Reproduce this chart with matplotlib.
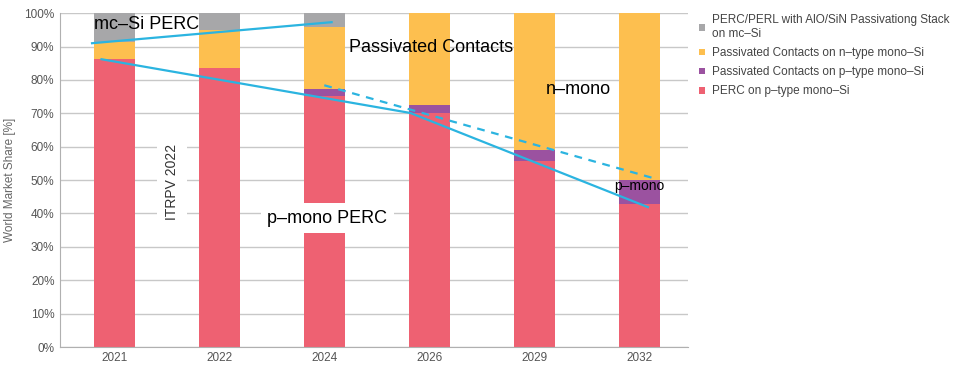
"""ITRPV 2022 cell technology market share"""

import matplotlib.pyplot as plt
import numpy as np

plt.rcParams['font.family'] = ['Liberation Sans', 'DejaVu Sans']

# Bar data (world market share in %)
years = ['2021', '2022', '2024', '2026', '2029', '2032']
perc_p_mono = [86.2, 83.6, 75.2, 70.0, 55.7, 42.8]
pc_p_mono = [0.0, 0.0, 2.0, 2.5, 3.3, 7.1]
pc_n_mono = [5.2, 11.3, 18.7, 27.5, 41.0, 50.1]
perc_mc_si = [8.6, 5.1, 4.1, 0.0, 0.0, 0.0]

# Trend lines drawn over the bars
mc_trend_x = [-0.21, 2.07]
mc_trend_y = [91.0, 97.3]
perc_trend_x = [-0.12, 2.82, 5.08]
perc_trend_y = [86.2, 70.1, 41.9]
pmono_trend_x = [2.0, 5.13]
pmono_trend_y = [78.4, 50.6]

labels = ['PERC/PERL with AlO/SiN Passivationg Stack\non mc\u2013Si',
          'Passivated Contacts on n\u2013type mono\u2013Si',
          'Passivated Contacts on p\u2013type mono\u2013Si',
          'PERC on p\u2013type mono\u2013Si']
colors = ['#a7a7a9', '#fdbf4f', '#9b52a0', '#ee6172']

fig = plt.figure(figsize=(9.6, 3.73), dpi=100)
ax = fig.add_axes([0.0625, 0.0697, 0.654, 0.895])

x = np.arange(len(years))
w = 0.39
b1 = ax.bar(x, perc_p_mono, w, color=colors[3], zorder=2)
bottom = np.array(perc_p_mono)
b2 = ax.bar(x, pc_p_mono, w, bottom=bottom, color=colors[2], zorder=2)
bottom = bottom + np.array(pc_p_mono)
b3 = ax.bar(x, pc_n_mono, w, bottom=bottom, color=colors[1], zorder=2)
bottom = bottom + np.array(pc_n_mono)
b4 = ax.bar(x, perc_mc_si, w, bottom=bottom, color=colors[0], zorder=2)

# Trend lines
cyan = '#2bb4e0'
ax.plot(mc_trend_x, mc_trend_y, color=cyan, lw=1.6, zorder=3)
ax.plot(perc_trend_x, perc_trend_y, color=cyan, lw=1.6, zorder=3)
ax.plot(pmono_trend_x, pmono_trend_y, color=cyan, lw=1.6, ls=(0, (3.5, 3)), zorder=3)

# Annotations
ax.text(0.31, 96.6, 'mc\u2013Si PERC', fontsize=13, ha='center', va='center', zorder=4)
ax.text(3.02, 89.8, 'Passivated Contacts', fontsize=13, ha='center', va='center', zorder=4)
ax.text(4.42, 77.0, 'n\u2013mono', fontsize=13, ha='center', va='center', zorder=4)
ax.text(5.0, 48.3, 'p\u2013mono', fontsize=10, ha='center', va='center', zorder=4)
ax.text(2.03, 38.6, 'p\u2013mono PERC', fontsize=13, ha='center', va='center', zorder=4,
        bbox=dict(facecolor='white', edgecolor='none', pad=4.5))
ax.text(0.55, 49.4, 'ITRPV 2022', fontsize=10, rotation=90, ha='center', va='center',
        color='#333333', zorder=4, bbox=dict(facecolor='white', edgecolor='none', pad=6))

ax.set_xlim(-0.515, 5.46)
ax.set_ylim(0, 100)
ax.set_xticks(x)
ax.set_xticklabels(years)
ax.set_yticks(np.arange(0, 101, 10))
ax.set_yticklabels([f'{v}%' for v in range(0, 101, 10)])
ax.tick_params(axis='both', length=0, labelsize=8.5, colors='#555555')
ax.tick_params(axis='y', pad=4)
ax.set_ylabel('World Market Share [%]', fontsize=8.5, color='#666666', labelpad=6)
ax.yaxis.grid(True, color='#c8c8c8', lw=1, zorder=0)
ax.set_axisbelow(True)
for s in ['top', 'right']:
    ax.spines[s].set_visible(False)
ax.spines['left'].set_color('#b0b0b0')
ax.spines['bottom'].set_color('#b0b0b0')

fig.legend([b4, b3, b2, b1], labels, loc='upper left', bbox_to_anchor=(0.717, 0.99),
           frameon=False, fontsize=8.5, handlelength=0.5, handleheight=0.5,
           handletextpad=0.6, labelspacing=0.6, labelcolor='#444444')

plt.savefig('out.png')
